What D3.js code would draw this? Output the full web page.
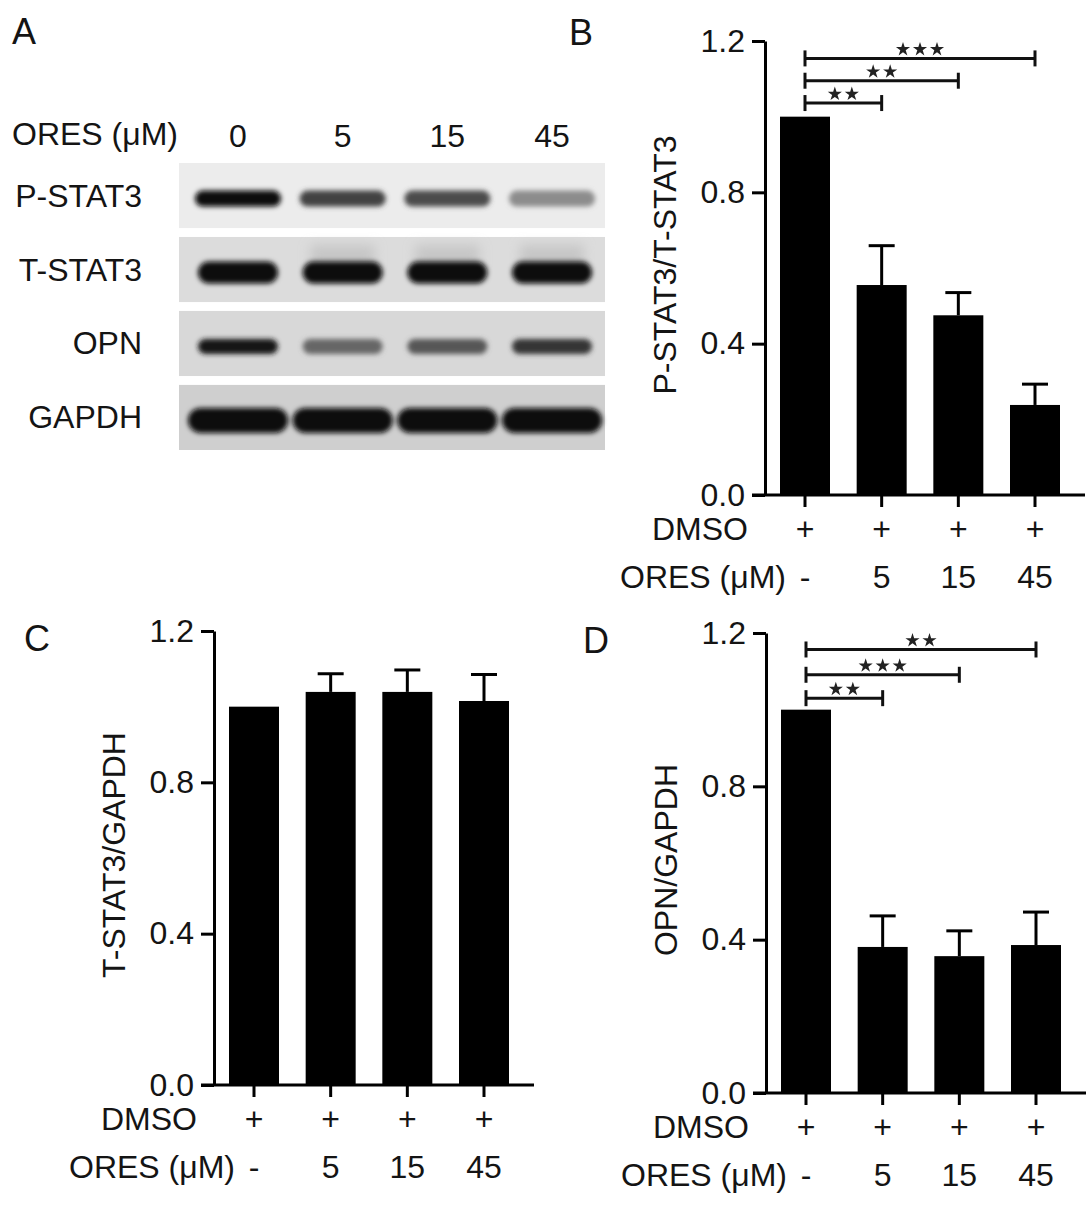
<!DOCTYPE html>
<html>
<head>
<meta charset="utf-8">
<script src="https://cdnjs.cloudflare.com/ajax/libs/d3/7.8.5/d3.min.js"></script>
<style>
body { margin: 0; background: #fff; }
text { font-family: "Liberation Sans", Arial, sans-serif; fill: #141414; }
</style>
</head>
<body>
<div id="fig"></div>
<script>
// ---- data ----
var groups = ["0", "5", "15", "45"];
var dmsoRow = ["+", "+", "+", "+"];
var oresRow = ["-", "5", "15", "45"];
var yTicks = [0, 0.4, 0.8, 1.2];

// blot (panel A): relative band darkness per lane
var blotRows = ["P-STAT3", "T-STAT3", "OPN", "GAPDH"];
var pstatBands = [1.0, 0.74, 0.70, 0.42];
var tstatBands = [1.0, 1.0, 1.0, 1.0];
var opnBands = [0.92, 0.55, 0.62, 0.78];
var gapdhBands = [1.0, 1.0, 1.0, 1.0];

// panel B: P-STAT3/T-STAT3
var pstatMean = [1.0, 0.555, 0.475, 0.238];
var pstatSD = [0, 0.104, 0.060, 0.055];
var pstatSigTo = [1, 2, 3];
var pstatSigAt = [1.036, 1.095, 1.154];
var pstatSigStars = [2, 2, 3];

// panel C: T-STAT3/GAPDH
var tstatMean = [1.0, 1.039, 1.039, 1.015];
var tstatSD = [0, 0.048, 0.058, 0.070];

// panel D: OPN/GAPDH
var opnMean = [1.0, 0.381, 0.357, 0.386];
var opnSD = [0, 0.081, 0.066, 0.086];
var opnSigTo = [1, 2, 3];
var opnSigAt = [1.030, 1.091, 1.157];
var opnSigStars = [2, 3, 2];

// ---- drawing ----
var FS = 32;
var svg = d3.select("#fig").append("svg")
  .attr("width", 1087)
  .attr("height", 1211);

var defs = svg.append("defs");
var blur = defs.append("filter")
  .attr("id", "blur")
  .attr("x", "-20%").attr("y", "-60%")
  .attr("width", "140%").attr("height", "220%");
blur.append("feGaussianBlur").attr("stdDeviation", 2.8);
var smear = defs.append("filter")
  .attr("id", "smear")
  .attr("x", "-30%").attr("y", "-80%")
  .attr("width", "160%").attr("height", "260%");
smear.append("feGaussianBlur").attr("stdDeviation", 6);

function panelLetter(t, x, y) {
  svg.append("text").attr("x", x).attr("y", y)
    .attr("font-size", 36)
    .text(t);
}

// Western blot
function blotPanel() {
  var lanes = d3.scalePoint().domain(groups).range([238, 552]);
  var rows = d3.scaleBand().domain(blotRows).range([163, 450]).paddingInner(0.12);
  var bandSets = [pstatBands, tstatBands, opnBands, gapdhBands];
  var stripFill = {"P-STAT3": "#ececec", "T-STAT3": "#dcdcdc", "OPN": "#d8d8d8", "GAPDH": "#cfcfcf"};
  var bandThick = {"P-STAT3": 16, "T-STAT3": 22, "OPN": 15, "GAPDH": 25};
  var bandWide = {"P-STAT3": 86, "T-STAT3": 80, "OPN": 80, "GAPDH": 100};

  svg.append("text").attr("x", 12).attr("y", 145)
    .attr("font-size", FS)
    .text("ORES (\u03bcM)");

  svg.selectAll(".lane-label")
    .data(groups)
    .enter()
    .append("text")
      .attr("class", "lane-label")
      .attr("x", function(d) { return lanes(d); })
      .attr("y", 147)
      .attr("text-anchor", "middle")
      .attr("font-size", FS)
      .text(function(d) { return d; });

  blotRows.forEach(function(r, i) {
    var top = rows(r), bh = rows.bandwidth();
    svg.append("rect")
      .attr("x", 179).attr("y", top)
      .attr("width", 426).attr("height", bh)
      .attr("fill", stripFill[r]);

    svg.append("text")
      .attr("x", 142).attr("y", top + bh / 2 + 11)
      .attr("text-anchor", "end")
      .attr("font-size", FS)
      .text(r);

    // faint smear above the T-STAT3 bands
    if (r === "T-STAT3") {
      svg.append("g").attr("filter", "url(#smear)")
        .selectAll("rect")
        .data(groups.slice(1))
        .enter()
        .append("rect")
          .attr("x", function(d) { return lanes(d) - 32; })
          .attr("y", top + 8)
          .attr("width", 64)
          .attr("height", 22)
          .attr("fill", "#b8b8b8")
          .attr("opacity", 0.6);
    }

    var col = d3.interpolateRgb(stripFill[r], "#080808");
    svg.append("g").attr("filter", "url(#blur)")
      .selectAll("rect")
      .data(bandSets[i])
      .enter()
      .append("rect")
        .attr("x", function(d, j) { return lanes(groups[j]) - bandWide[r] / 2; })
        .attr("y", top + bh / 2 + 3 - bandThick[r] / 2)
        .attr("width", bandWide[r])
        .attr("height", bandThick[r])
        .attr("rx", bandThick[r] / 2)
        .attr("fill", function(d) { return col(d); });
  });
}

function barPanel(o) {
  var h = o.bottom - o.top;
  var g = svg.append("g")
    .attr("transform", "translate(" + o.left + "," + o.top + ")");

  var y = d3.scaleLinear().domain([0, 1.2]).range([h, 0]);
  var x = d3.scalePoint().domain(groups).range([40, 270]);
  var bw = 50;

  // bars
  g.selectAll(".bar")
    .data(o.mean)
    .enter()
    .append("rect")
      .attr("class", "bar")
      .attr("x", function(d, i) { return x(groups[i]) - bw / 2; })
      .attr("y", function(d) { return y(d); })
      .attr("width", bw)
      .attr("height", function(d) { return h - y(d); })
      .attr("fill", "#000");

  // upper error bars
  o.mean.forEach(function(m, i) {
    if (!o.sd[i]) return;
    var cx = x(groups[i]);
    g.append("line")
      .attr("x1", cx).attr("x2", cx)
      .attr("y1", y(m)).attr("y2", y(m + o.sd[i]))
      .attr("stroke", "#000").attr("stroke-width", 3);
    g.append("line")
      .attr("x1", cx - 13).attr("x2", cx + 13)
      .attr("y1", y(m + o.sd[i])).attr("y2", y(m + o.sd[i]))
      .attr("stroke", "#000").attr("stroke-width", 3);
  });

  // y axis
  var yAxis = g.append("g")
    .call(d3.axisLeft(y)
      .tickValues(yTicks)
      .tickFormat(d3.format(".1f"))
      .tickSize(13)
      .tickSizeOuter(0)
      .tickPadding(7));
  yAxis.attr("font-size", FS);
  yAxis.select(".domain").attr("stroke-width", 3);
  yAxis.selectAll(".tick line").attr("stroke-width", 3);

  // x baseline + ticks
  g.append("line")
    .attr("x1", -13).attr("x2", 320)
    .attr("y1", h).attr("y2", h)
    .attr("stroke", "#000").attr("stroke-width", 3);
  g.selectAll(".xtick")
    .data(groups)
    .enter()
    .append("line")
      .attr("class", "xtick")
      .attr("x1", function(d) { return x(d); })
      .attr("x2", function(d) { return x(d); })
      .attr("y1", h).attr("y2", h + 12)
      .attr("stroke", "#000").attr("stroke-width", 3);

  // y title
  g.append("text")
    .attr("transform", "translate(-89," + (h / 2 - 3) + ") rotate(-90)")
    .attr("text-anchor", "middle")
    .attr("font-size", FS)
    .text(o.title);

  // treatment rows
  g.append("text")
    .attr("x", -17).attr("y", h + 45)
    .attr("text-anchor", "end")
    .attr("font-size", FS)
    .text("DMSO");
  g.selectAll(".dmso")
    .data(dmsoRow)
    .enter()
    .append("text")
      .attr("class", "dmso")
      .attr("x", function(d, i) { return x(groups[i]); })
      .attr("y", h + 45)
      .attr("text-anchor", "middle")
      .attr("font-size", FS)
      .text(function(d) { return d; });

  g.append("text")
    .attr("x", x(groups[0]) - 19).attr("y", h + 93)
    .attr("text-anchor", "end")
    .attr("font-size", FS)
    .text("ORES (\u03bcM)");
  g.selectAll(".ores")
    .data(oresRow)
    .enter()
    .append("text")
      .attr("class", "ores")
      .attr("x", function(d, i) { return x(groups[i]); })
      .attr("y", h + 93)
      .attr("text-anchor", "middle")
      .attr("font-size", FS)
      .text(function(d) { return d; });

  // significance brackets
  if (o.sigTo) {
    var star = d3.symbol().type(d3.symbolStar).size(62);
    o.sigTo.forEach(function(t, i) {
      var yy = y(o.sigAt[i]);
      var x1 = x(groups[0]), x2 = x(groups[t]);
      g.append("line")
        .attr("x1", x1).attr("x2", x2).attr("y1", yy).attr("y2", yy)
        .attr("stroke", "#111").attr("stroke-width", 3);
      [x1, x2].forEach(function(xx) {
        g.append("line")
          .attr("x1", xx).attr("x2", xx).attr("y1", yy - 8).attr("y2", yy + 8)
          .attr("stroke", "#111").attr("stroke-width", 3);
      });
      var n = o.sigStars[i], cx = (x1 + x2) / 2;
      d3.range(n).forEach(function(k) {
        g.append("path")
          .attr("d", star)
          .attr("transform", "translate(" + (cx + (k - (n - 1) / 2) * 17) + "," + (yy - 9) + ")")
          .attr("fill", "#222");
      });
    });
  }
}

panelLetter("A", 12, 44);
panelLetter("B", 569, 45);
panelLetter("C", 24, 651);
panelLetter("D", 583, 653);

blotPanel();

barPanel({left: 765, top: 41, bottom: 495, title: "P-STAT3/T-STAT3",
  mean: pstatMean, sd: pstatSD, sigTo: pstatSigTo, sigAt: pstatSigAt, sigStars: pstatSigStars});
barPanel({left: 214, top: 631, bottom: 1085, title: "T-STAT3/GAPDH",
  mean: tstatMean, sd: tstatSD});
barPanel({left: 766, top: 633, bottom: 1093, title: "OPN/GAPDH",
  mean: opnMean, sd: opnSD, sigTo: opnSigTo, sigAt: opnSigAt, sigStars: opnSigStars});
</script>
</body>
</html>
